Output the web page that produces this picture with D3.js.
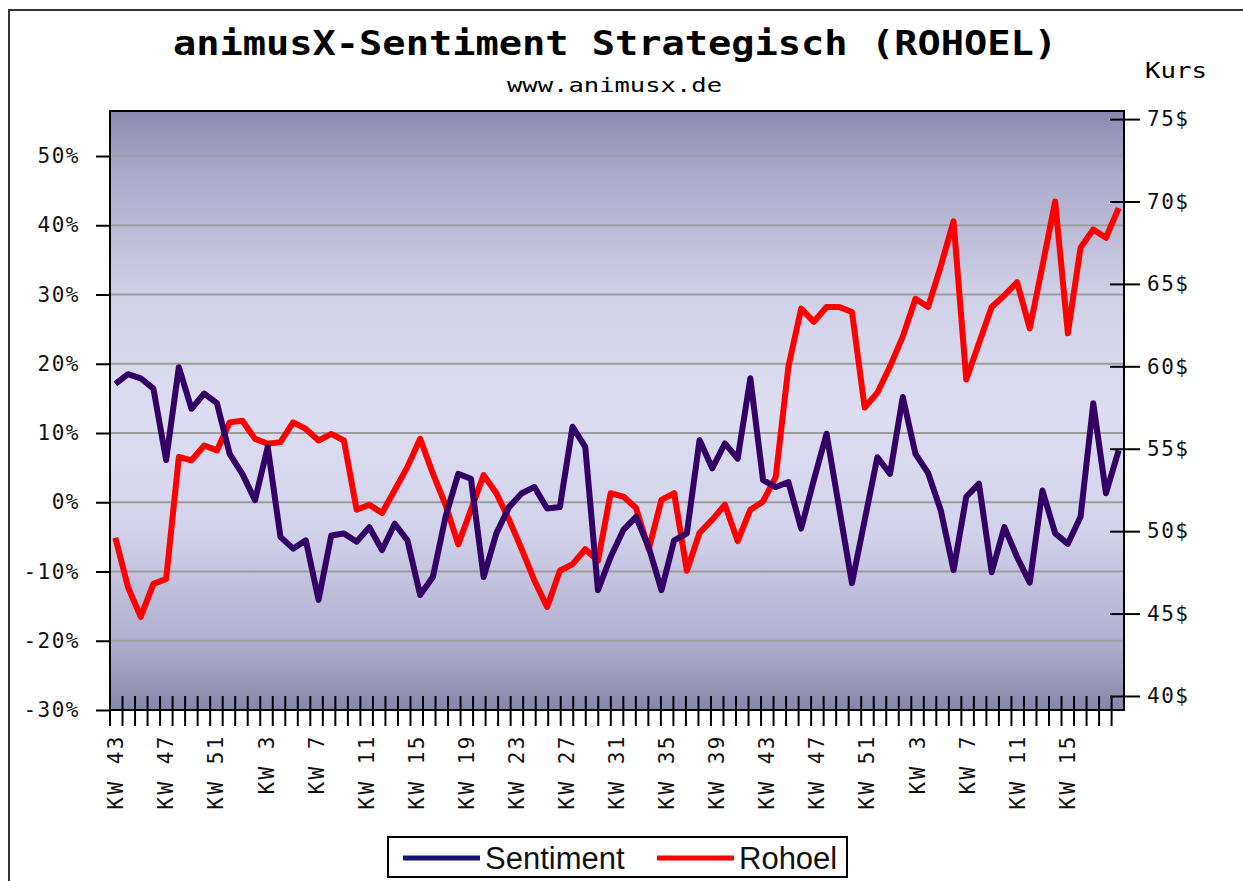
<!DOCTYPE html>
<html>
<head>
<meta charset="utf-8">
<script src="https://cdn.jsdelivr.net/npm/d3@7/dist/d3.min.js"></script>
<style>
  body { margin: 0; background: #fff; }
  .mono { font-family: 'DejaVu Sans Mono', 'Liberation Mono', monospace; }
</style>
</head>
<body>
<div id="chart"></div>
<script>
// Kalenderwochen (KW 43 .. KW 18)
var weeks = [43, 44, 45, 46, 47, 48, 49, 50, 51, 52,
  1, 2, 3, 4, 5, 6, 7, 8, 9, 10, 11, 12, 13, 14, 15, 16, 17, 18, 19, 20,
  21, 22, 23, 24, 25, 26, 27, 28, 29, 30, 31, 32, 33, 34, 35, 36, 37, 38, 39, 40,
  41, 42, 43, 44, 45, 46, 47, 48, 49, 50, 51, 52,
  1, 2, 3, 4, 5, 6, 7, 8, 9, 10, 11, 12, 13, 14, 15, 16, 17, 18];

// Sentiment in %
var sentiment = [
  17.1, 18.5, 17.9, 16.4, 6.1, 19.5, 13.5, 15.7, 14.3, 7.0,
  4.1, 0.3, 8.0, -5.0, -6.7, -5.5, -14.1, -4.8, -4.5, -5.7,
  -3.6, -6.9, -3.1, -5.5, -13.4, -10.8, -2.1, 4.1, 3.4, -10.8,
  -4.5, -0.7, 1.3, 2.2, -0.9, -0.7, 10.9, 8.0, -12.7, -7.9,
  -4.0, -2.1, -6.5, -12.7, -5.5, -4.5, 9.0, 4.9, 8.5, 6.3,
  17.9, 3.2, 2.2, 2.9, -3.8, 3.2, 9.9, -0.9, -11.7, -2.6,
  6.5, 4.1, 15.2, 7.0, 4.2, -1.2, -9.8, 0.8, 2.7, -10.1,
  -3.6, -7.9, -11.6, 1.7, -4.5, -6.0, -2.1, 14.3, 1.3, 7.5
];

// Rohoel-Kurs in $
var rohoel = [
  49.6, 46.6, 44.8, 46.8, 47.1, 54.5, 54.3, 55.2, 54.9, 56.6,
  56.7, 55.6, 55.3, 55.4, 56.6, 56.2, 55.5, 55.9, 55.5, 51.3,
  51.6, 51.1, 52.5, 53.9, 55.6, 53.5, 51.6, 49.2, 51.3, 53.4,
  52.3, 50.7, 48.9, 47.0, 45.4, 47.6, 48.0, 48.9, 48.2, 52.3,
  52.1, 51.4, 48.9, 51.9, 52.3, 47.6, 49.9, 50.7, 51.6, 49.4,
  51.3, 51.8, 53.3, 60.0, 63.5, 62.7, 63.6, 63.6, 63.3, 57.5,
  58.4, 60.0, 61.8, 64.1, 63.6, 66.1, 68.8, 59.2, 61.4, 63.6,
  64.3, 65.1, 62.3, 66.1, 70.0, 62.0, 67.2, 68.3, 67.8, 69.6
];

var pctTicks = [-30, -20, -10, 0, 10, 20, 30, 40, 50];
var priceTicks = [40, 45, 50, 55, 60, 65, 70, 75];

var width = 1243;
var height = 881;
var plot = { left: 110, right: 1124, top: 111, bottom: 710 };

document.addEventListener('DOMContentLoaded', init, false);

function init() {

  var svg = d3.select('#chart')
    .append('svg')
      .attr('width', width)
      .attr('height', height);

  // outer frame
  svg.append('rect')
    .attr('x', 9).attr('y', 10)
    .attr('width', width).attr('height', height)
    .attr('fill', 'none')
    .attr('stroke', '#333')
    .attr('stroke-width', 2);

  var idx = d3.range(weeks.length);

  var x = d3.scalePoint()
    .domain(idx)
    .range([plot.left, plot.right])
    .padding(0.42);

  var xBand = d3.scaleBand()
    .domain(idx)
    .range([plot.left, 1111.6]);

  var yLeft = d3.scaleLinear()
    .domain([-30, 56.5])
    .range([plot.bottom, plot.top]);

  var yRight = d3.scaleLinear()
    .domain([39.15, 75.49])
    .range([plot.bottom, plot.top]);

  drawBackground(svg);
  drawTitles(svg);
  drawGrid(svg, yLeft);
  drawLines(svg, x, yLeft, yRight);
  drawFrame(svg);
  drawAxes(svg, xBand, yLeft, yRight);
  drawLegend(svg);
}

function drawBackground(svg) {

  var grad = svg.append('defs')
    .append('linearGradient')
      .attr('id', 'bg')
      .attr('x1', 0).attr('y1', 0)
      .attr('x2', 0).attr('y2', 1);

  [[0, '#8a8ab0'], [0.1, '#a9a9ca'], [0.3, '#cfcfe6'], [0.5, '#dedef2'],
   [0.7, '#d2d2ea'], [0.88, '#b0b0d0'], [1, '#8686aa']].forEach(function (s) {
    grad.append('stop').attr('offset', s[0]).attr('stop-color', s[1]);
  });

  svg.append('rect')
    .attr('x', plot.left).attr('y', plot.top)
    .attr('width', plot.right - plot.left)
    .attr('height', plot.bottom - plot.top)
    .attr('fill', 'url(#bg)');
}

function drawTitles(svg) {

  svg.append('text')
    .attr('class', 'mono')
    .attr('x', 173).attr('y', 55)
    .attr('font-size', 34)
    .attr('font-weight', 'bold')
    .attr('textLength', 884)
    .attr('lengthAdjust', 'spacingAndGlyphs')
    .text('animusX-Sentiment Strategisch (ROHOEL)');

  svg.append('text')
    .attr('class', 'mono')
    .attr('x', 507).attr('y', 92)
    .attr('font-size', 20)
    .attr('textLength', 215)
    .attr('lengthAdjust', 'spacingAndGlyphs')
    .text('www.animusx.de');

  svg.append('text')
    .attr('class', 'mono')
    .attr('x', 1145).attr('y', 78)
    .attr('font-size', 21)
    .attr('textLength', 62)
    .attr('lengthAdjust', 'spacingAndGlyphs')
    .text('Kurs');
}

function drawGrid(svg, yLeft) {

  svg.append('g')
    .selectAll('line')
    .data(pctTicks.slice(1))
    .enter()
    .append('line')
      .attr('x1', plot.left).attr('x2', plot.right)
      .attr('y1', function (d) { return yLeft(d); })
      .attr('y2', function (d) { return yLeft(d); })
      .attr('stroke', '#9c9c9c')
      .attr('stroke-width', 2);
}

function drawLines(svg, x, yLeft, yRight) {

  var lineL = d3.line()
    .x(function (d, i) { return x(i); })
    .y(function (d) { return yLeft(d); });

  var lineR = d3.line()
    .x(function (d, i) { return x(i); })
    .y(function (d) { return yRight(d); });

  svg.append('path')
    .attr('d', lineR(rohoel))
    .attr('fill', 'none')
    .attr('stroke', '#ff0000')
    .attr('stroke-width', 6)
    .attr('stroke-linejoin', 'round');

  svg.append('path')
    .attr('d', lineL(sentiment))
    .attr('fill', 'none')
    .attr('stroke', '#330066')
    .attr('stroke-width', 6)
    .attr('stroke-linejoin', 'round');
}

function drawFrame(svg) {

  svg.append('rect')
    .attr('x', plot.left).attr('y', plot.top)
    .attr('width', plot.right - plot.left)
    .attr('height', plot.bottom - plot.top)
    .attr('fill', 'none')
    .attr('stroke', '#000')
    .attr('stroke-width', 2);
}

function drawAxes(svg, xBand, yLeft, yRight) {

  var left = svg.append('g')
    .attr('class', 'mono')
    .attr('transform', 'translate(' + plot.left + ',0)')
    .call(d3.axisLeft(yLeft)
      .tickValues(pctTicks)
      .tickSize(14)
      .tickPadding(16)
      .tickFormat(function (d) { return d + '%'; }));

  var right = svg.append('g')
    .attr('class', 'mono')
    .attr('transform', 'translate(' + (plot.right - 14) + ',0)')
    .call(d3.axisRight(yRight)
      .tickValues(priceTicks)
      .tickSize(30)
      .tickPadding(7)
      .tickFormat(function (d) { return d + '$'; }));

  [left, right].forEach(function (g) {
    g.select('.domain').remove();
    g.selectAll('.tick line').attr('stroke', '#000').attr('stroke-width', 2);
    g.selectAll('.tick text')
      .attr('fill', '#111')
      .attr('font-size', 21)
      .attr('font-family', 'DejaVu Sans Mono, monospace')
      .attr('letter-spacing', 1.5);
  });

  // x axis: ticks at week boundaries, labels every 4th week
  var bw = xBand.bandwidth();
  var edges = xBand.domain().map(function (d) { return xBand(d); })
    .concat([xBand(xBand.domain().length - 1) + bw]);

  var xg = svg.append('g').attr('class', 'mono');

  xg.selectAll('.xtick')
    .data(edges)
    .enter()
    .append('line')
      .attr('class', 'xtick')
      .attr('x1', function (d) { return d; })
      .attr('x2', function (d) { return d; })
      .attr('y1', plot.bottom - 14)
      .attr('y2', plot.bottom + 16)
      .attr('stroke', '#000')
      .attr('stroke-width', 2);

  xg.selectAll('.xlabel')
    .data(xBand.domain().filter(function (d) { return d % 4 === 0; }))
    .enter()
    .append('text')
      .attr('class', 'xlabel')
      .attr('transform', function (d) {
        return 'translate(' + (xBand(d) + bw / 2 + 7) + ',' + (plot.bottom + 24) + ') rotate(-90)';
      })
      .attr('text-anchor', 'end')
      .attr('font-size', 21)
      .attr('letter-spacing', 2.5)
      .attr('fill', '#111')
      .text(function (d) { return 'KW ' + weeks[d]; });
}

function drawLegend(svg) {

  var lg = svg.append('g')
    .attr('transform', 'translate(388,837)');

  lg.append('rect')
    .attr('width', 459).attr('height', 40)
    .attr('fill', '#fff')
    .attr('stroke', '#000')
    .attr('stroke-width', 2);

  var items = [
    { name: 'Sentiment', color: '#141478', x: 15 },
    { name: 'Rohoel', color: '#ff0000', x: 269 }
  ];

  items.forEach(function (d) {
    lg.append('line')
      .attr('x1', d.x).attr('x2', d.x + 77)
      .attr('y1', 21).attr('y2', 21)
      .attr('stroke', d.color)
      .attr('stroke-width', 5);

    lg.append('text')
      .attr('x', d.x + 82).attr('y', 32)
      .attr('font-family', 'Liberation Sans, Arial, sans-serif')
      .attr('font-size', 31)
      .attr('fill', '#111')
      .text(d.name);
  });
}
</script>
</body>
</html>
